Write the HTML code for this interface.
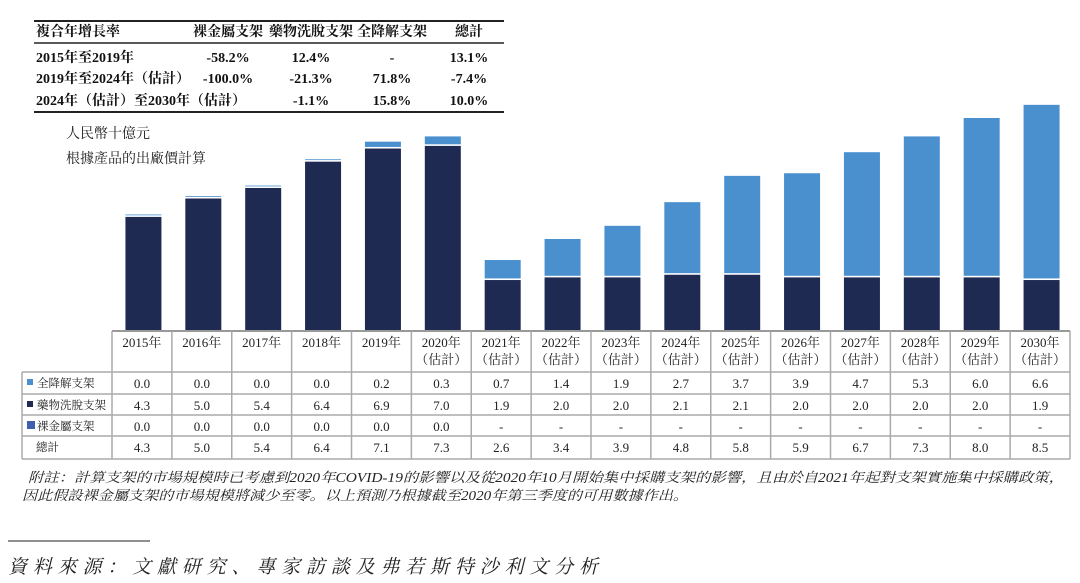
<!DOCTYPE html>
<html><head><meta charset="utf-8"><style>
body{margin:0;background:#fff;}
svg{display:block;font-family:"Liberation Serif","Noto Serif CJK SC","Noto Sans CJK TC",serif;}
</style></head><body>
<svg id="c" width="1080" height="583" viewBox="0 0 1080 583">
<g font-size="14" font-weight="bold" fill="#111">
<line x1="34" y1="21" x2="504" y2="21" stroke="#222" stroke-width="2"/>
<line x1="34" y1="43" x2="504" y2="43" stroke="#222" stroke-width="1.5"/>
<line x1="34" y1="112" x2="504" y2="112" stroke="#222" stroke-width="2"/>
<text x="36" y="36">複合年增長率</text>
<text x="228" y="36" text-anchor="middle">裸金屬支架</text>
<text x="311" y="36" text-anchor="middle">藥物洗脫支架</text>
<text x="392" y="36" text-anchor="middle">全降解支架</text>
<text x="469" y="36" text-anchor="middle">總計</text>
<text x="36" y="62">2015年至2019年</text>
<text x="228" y="62" text-anchor="middle">-58.2%</text><text x="311" y="62" text-anchor="middle">12.4%</text><text x="392" y="62" text-anchor="middle">-</text><text x="469" y="62" text-anchor="middle">13.1%</text>
<text x="36" y="83">2019年至2024年（估計）</text>
<text x="228" y="83" text-anchor="middle">-100.0%</text><text x="311" y="83" text-anchor="middle">-21.3%</text><text x="392" y="83" text-anchor="middle">71.8%</text><text x="469" y="83" text-anchor="middle">-7.4%</text>
<text x="36" y="105">2024年（估計）至2030年（估計）</text>
<text x="228" y="105" text-anchor="middle">-</text><text x="311" y="105" text-anchor="middle">-1.1%</text><text x="392" y="105" text-anchor="middle">15.8%</text><text x="469" y="105" text-anchor="middle">10.0%</text>
</g>
<text x="66" y="138" font-size="14" fill="#222">人民幣十億元</text>
<text x="66" y="163" font-size="14" fill="#222">根據產品的出廠價計算</text>
<g id="bars"></g>
<g id="tbl" font-size="13" fill="#222"></g>
<text x="28" y="482" font-size="13.5" font-style="italic" fill="#222" textLength="1036" lengthAdjust="spacingAndGlyphs">附註：計算支架的市場規模時已考慮到2020年COVID-19的影響以及從2020年10月開始集中採購支架的影響，且由於自2021年起對支架實施集中採購政策，</text>
<text x="22" y="500" font-size="13.5" font-style="italic" fill="#222" textLength="666" lengthAdjust="spacingAndGlyphs">因此假設裸金屬支架的市場規模將減少至零。以上預測乃根據截至2020年第三季度的可用數據作出。</text>
<line x1="8" y1="541" x2="150" y2="541" stroke="#222" stroke-width="1"/>
<text x="8" y="573" font-size="19" font-style="italic" fill="#222" textLength="590" lengthAdjust="spacing">資料來源：文獻研究、專家訪談及弗若斯特沙利文分析</text>
</svg>
<script>
const years=["2015年","2016年","2017年","2018年","2019年","2020年","2021年","2022年","2023年","2024年","2025年","2026年","2027年","2028年","2029年","2030年"];
const estimated=[0,0,0,0,0,1,1,1,1,1,1,1,1,1,1,1];
const bioresorbable=[0.0,0.0,0.0,0.0,0.2,0.3,0.7,1.4,1.9,2.7,3.7,3.9,4.7,5.3,6.0,6.6];
const drugEluting=[4.3,5.0,5.4,6.4,6.9,7.0,1.9,2.0,2.0,2.1,2.1,2.0,2.0,2.0,2.0,1.9];
const bareMetal=["0.0","0.0","0.0","0.0","0.0","0.0","-","-","-","-","-","-","-","-","-","-"];
const totals=[4.3,5.0,5.4,6.4,7.1,7.3,2.6,3.4,3.9,4.8,5.8,5.9,6.7,7.3,8.0,8.5];
const NS="http://www.w3.org/2000/svg";
const x0=112,x1=1070,n=years.length,cw=(x1-x0)/n,base=330,k=26.3,bw=36;
const xC=i=>x0+cw*(i+0.5)+1.5;
const yS=v=>v*k;
function mk(tag,attrs,parent){const e=document.createElementNS(NS,tag);for(const a in attrs)e.setAttribute(a,attrs[a]);parent.appendChild(e);return e;}
const bars=document.getElementById('bars');
years.forEach((y,i)=>{
  const hd=yS(drugEluting[i]);
  const d=mk('rect',{x:xC(i)-bw/2,y:base-hd,width:bw,height:hd,fill:'#1f2a52'},bars);
  
  
  const hb=Math.max(yS(bioresorbable[i]),0.8);
  const b=mk('rect',{x:xC(i)-bw/2,y:base-hd-1.6-hb,width:bw,height:hb,fill:'#4a90cf'},bars);
  
  
});
const t=document.getElementById('tbl');
const g='#aaa';
const cx=i=>x0+cw*(i+0.5);
mk('line',{x1:x0,y1:331,x2:x1,y2:331,stroke:'#999','stroke-width':2},t);
const rows=[372,394,415,436,459];
rows.forEach(r=>mk('line',{x1:22,y1:r,x2:x1,y2:r,stroke:g,'stroke-width':1.5},t));
mk('line',{x1:22,y1:372,x2:22,y2:459,stroke:g,'stroke-width':1.5},t);
for(let i=0;i<=n;i++){const x=x0+cw*i;mk('line',{x1:x,y1:331,x2:x,y2:459,stroke:g,'stroke-width':1.5},t);}
years.forEach((y,i)=>{
  const h=mk('text',{x:cx(i),y:347,'text-anchor':'middle'},t);h.textContent=y;
  
  
  if(estimated[i]){const e=mk('text',{x:cx(i),y:364,'text-anchor':'middle'},t);e.textContent='（估計）';
  
  }
  const vals=[bioresorbable[i].toFixed(1),drugEluting[i].toFixed(1),bareMetal[i],totals[i].toFixed(1)];
  vals.forEach((v,j)=>{const c=mk('text',{x:cx(i),y:rows[j]+16,'text-anchor':'middle'},t);c.textContent=v;
  
  });
});
const labels=[['全降解支架','#4a90cf',6],['藥物洗脫支架','#1f2a52',6],['裸金屬支架','#3f5fb0',8],['總計',null,0]];
labels.forEach((l,j)=>{
  if(l[1]){const s=mk('rect',{x:27,y:rows[j]+11-l[2]/2-1,width:l[2],height:l[2],fill:l[1]},t);
  
  }
  const tx=mk('text',{x:l[1]?37:36,y:rows[j]+15,'font-size':11.5},t);tx.textContent=l[0];
  
  
});
</script>
</body></html>
